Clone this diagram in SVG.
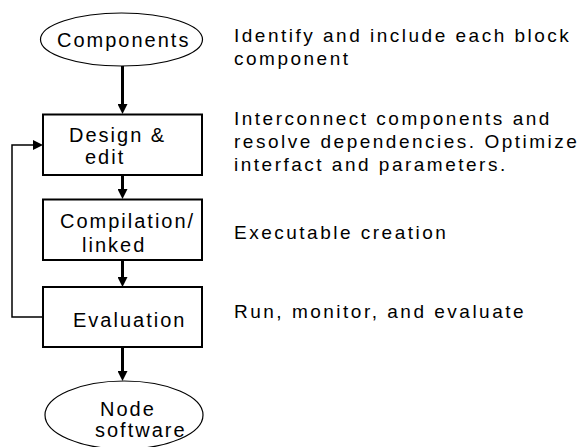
<svg xmlns="http://www.w3.org/2000/svg" width="586" height="447" viewBox="0 0 586 447">
<style>
  .bg { fill: #ffffff; }
  .box { fill: #ffffff; stroke: #000000; stroke-width: 2; }
  .oval { fill: #ffffff; stroke: #000000; stroke-width: 1.2; }
  .lbl { font-family: "Liberation Sans", Arial, sans-serif; font-size: 20px; letter-spacing: 2px; fill: #000000; }
  .note { font-family: "Liberation Sans", Arial, sans-serif; font-size: 19px; letter-spacing: 2.5px; fill: #000000; }
  .flow { fill: none; stroke: #000000; stroke-width: 3; }
  .back { fill: none; stroke: #000000; stroke-width: 1.5; }
</style>
<defs>
  <marker id="ah" viewBox="0 0 10 10" markerWidth="10" markerHeight="10" markerUnits="userSpaceOnUse" refX="2" refY="5" orient="auto">
    <path d="M0,0 L10,5 L0,10 z" fill="#000000"/>
  </marker>
</defs>
<rect class="bg" x="0" y="0" width="586" height="447"/>

<g id="connectors">
  <line class="flow" x1="122.5" y1="66" x2="122.5" y2="106" marker-end="url(#ah)"/>
  <line class="flow" x1="122.5" y1="175" x2="122.5" y2="191" marker-end="url(#ah)"/>
  <line class="flow" x1="122.5" y1="260" x2="122.5" y2="279" marker-end="url(#ah)"/>
  <line class="flow" x1="122.5" y1="347" x2="122.5" y2="373" marker-end="url(#ah)"/>
  <polyline class="back" points="43,317 12,317 12,145 35,145" marker-end="url(#ah)"/>
</g>

<g id="node-components">
  <ellipse class="oval" cx="121.5" cy="39.5" rx="81" ry="26.5"/>
  <text class="lbl" x="57" y="47">Components</text>
</g>

<g id="node-design">
  <rect class="box" x="43" y="114.5" width="159" height="60.5"/>
  <text class="lbl" x="69" y="142">Design &amp;</text>
  <text class="lbl" x="85" y="164">edit</text>
</g>

<g id="node-compilation">
  <rect class="box" x="43" y="199.5" width="159" height="60.5"/>
  <text class="lbl" x="60" y="228">Compilation/</text>
  <text class="lbl" x="82" y="252">linked</text>
</g>

<g id="node-evaluation">
  <rect class="box" x="43" y="287" width="159" height="60"/>
  <text class="lbl" x="73" y="327">Evaluation</text>
</g>

<g id="node-software">
  <ellipse class="oval" cx="124" cy="415" rx="79" ry="34"/>
  <text class="lbl" x="100" y="416">Node</text>
  <text class="lbl" x="95" y="437">software</text>
</g>

<g id="notes">
  <text class="note" x="234" y="42">Identify and include each block</text>
  <text class="note" x="234" y="65">component</text>
  <text class="note" x="234" y="125">Interconnect components and</text>
  <text class="note" x="234" y="148">resolve dependencies. Optimize</text>
  <text class="note" x="234" y="171">interfact and parameters.</text>
  <text class="note" x="234" y="239">Executable creation</text>
  <text class="note" x="234" y="318">Run, monitor, and evaluate</text>
</g>
</svg>
